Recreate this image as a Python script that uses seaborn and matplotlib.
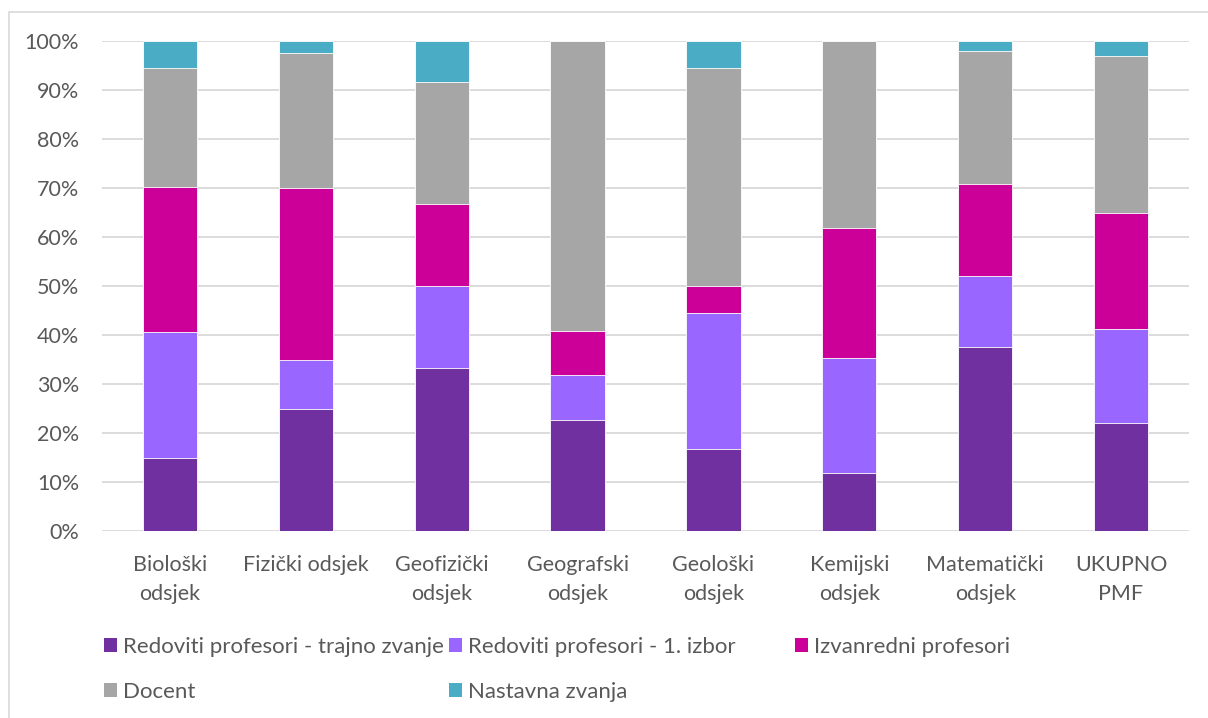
import numpy as np
import pandas as pd
import matplotlib
matplotlib.use('Agg')
import matplotlib.pyplot as plt
from matplotlib.patches import Patch, Rectangle
from matplotlib.ticker import PercentFormatter
import seaborn as sns

# Data (shares in %)
odsjeci = ['Biološki\nodsjek', 'Fizički odsjek', 'Geofizički\nodsjek', 'Geografski\nodsjek',
           'Geološki\nodsjek', 'Kemijski\nodsjek', 'Matematički\nodsjek', 'UKUPNO\nPMF']
trajno = [14.8, 25.0, 33.3, 22.7, 16.7, 11.8, 37.5, 22.1]
izbor1 = [25.9, 10.0, 16.7, 9.1, 27.8, 23.5, 14.6, 19.1]
izvanredni = [29.6, 35.0, 16.7, 9.1, 5.6, 26.5, 18.8, 23.7]
docent = [24.1, 27.5, 25.0, 59.1, 44.4, 38.2, 27.1, 32.0]
nastavna = [5.6, 2.5, 8.3, 0.0, 5.6, 0.0, 2.1, 3.1]

serije = ['Redoviti profesori - trajno zvanje', 'Redoviti profesori - 1. izbor',
          'Izvanredni profesori', 'Docent', 'Nastavna zvanja']
boje = ['#7030A0', '#9966FF', '#CC0099', '#A6A6A6', '#4BACC6']

sns.set_style('white')
plt.rcParams['font.family'] = ['Lato', 'DejaVu Sans']
txt = '#595959'
fs = 15.5
fs_leg = 16

df = pd.DataFrame({'odsjek': odsjeci, 's0': trajno, 's1': izbor1, 's2': izvanredni,
                   's3': docent, 's4': nastavna})
cum = df[['s0', 's1', 's2', 's3', 's4']].cumsum(axis=1)

fig = plt.figure(figsize=(12.08, 7.18), dpi=100)
ax = fig.add_axes([102 / 1208, 1 - 531 / 718, (1189 - 102) / 1208, (531 - 41) / 718])

# draw cumulative totals from top layer down so each layer overlays the previous
for i in range(4, -1, -1):
    sns.barplot(x=df['odsjek'], y=cum['s%d' % i], color=boje[i], width=0.4,
                edgecolor='white', linewidth=0.6, saturation=1, ax=ax, zorder=3)

ax.set_ylim(0, 100)
ax.set_xlim(-0.5, 7.5)
ax.set_yticks(np.arange(0, 101, 10))
ax.yaxis.set_major_formatter(PercentFormatter(decimals=0))
ax.grid(axis='y', color='#D9D9D9', linewidth=1.3, zorder=0)
ax.set_axisbelow(True)
for s in ax.spines.values():
    s.set_visible(False)
ax.set_xlabel('')
ax.set_ylabel('')
ax.tick_params(axis='y', length=0, pad=16.5, labelsize=fs, labelcolor=txt)
ax.tick_params(axis='x', length=0, pad=17, labelsize=fs, labelcolor=txt)
for lab in ax.get_xticklabels():
    lab.set_linespacing(1.6)
    lab.set_verticalalignment('top')

# legend: three columns placed like the original
def kolona(idx, x):
    h = [Patch(facecolor=boje[i], edgecolor='none') for i in idx]
    leg = fig.legend(h, [serije[i] for i in idx], loc='upper left',
                     bbox_to_anchor=(x / 1208, 1 - 637 / 718), frameon=False,
                     fontsize=fs_leg, labelcolor=txt, handlelength=0.6, handleheight=0.6,
                     handletextpad=0.27, labelspacing=1.12, borderpad=0, borderaxespad=0)
    return leg

kolona([0, 3], 104)
kolona([1, 4], 449)
kolona([2], 795)

# outer chart frame
fig.add_artist(Rectangle((9 / 1208, -0.1), 1.2, 1.1 - 12 / 718, transform=fig.transFigure,
                         fill=False, edgecolor='#D9D9D9', linewidth=1.2))

fig.savefig('out.png', dpi=100)
